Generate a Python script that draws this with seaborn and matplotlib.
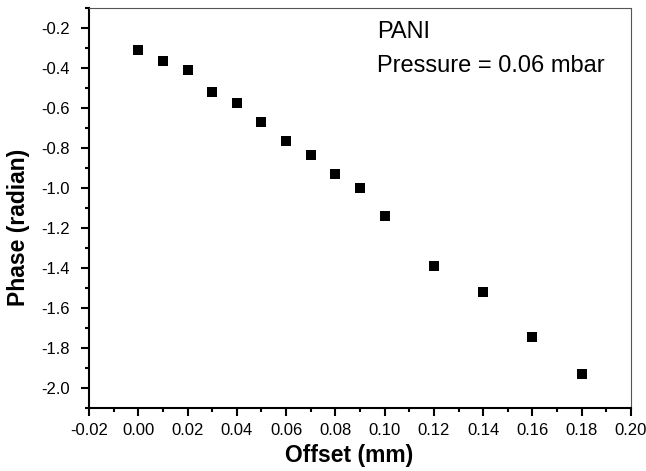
import pandas as pd
import seaborn as sns
import matplotlib.pyplot as plt
from matplotlib.ticker import MultipleLocator, FormatStrFormatter

# Данные
offset = [0.00, 0.01, 0.02, 0.03, 0.04, 0.05, 0.06, 0.07, 0.08, 0.09, 0.10, 0.12, 0.14, 0.16, 0.18]
phase = [-0.31, -0.365, -0.41, -0.52, -0.575, -0.67, -0.765, -0.835, -0.93, -1.0,
         -1.14, -1.39, -1.52, -1.745, -1.93]

df = pd.DataFrame({'offset': offset, 'phase': phase})

sns.set_style('white', {'text.color': 'black', 'axes.labelcolor': 'black',
                        'xtick.color': 'black', 'ytick.color': 'black'})
plt.rcParams['font.family'] = ['Liberation Sans', 'DejaVu Sans']

fig = plt.figure(figsize=(6.46, 4.71), dpi=100)
ax = fig.add_axes([0.1378, 0.1338, 0.839, 0.8492])

sns.scatterplot(data=df, x='offset', y='phase', marker='s', color='black',
                s=42, edgecolor='black', linewidth=0, ax=ax)

ax.set_xlim(-0.02, 0.20)
ax.set_ylim(-2.1, -0.1)
ax.xaxis.set_major_locator(MultipleLocator(0.02))
ax.xaxis.set_minor_locator(MultipleLocator(0.01))
ax.yaxis.set_major_locator(MultipleLocator(0.2))
ax.yaxis.set_minor_locator(MultipleLocator(0.1))
ax.xaxis.set_major_formatter(FormatStrFormatter('%.2f'))
ax.yaxis.set_major_formatter(FormatStrFormatter('%.1f'))

ax.tick_params(axis='both', which='major', direction='out', length=6, width=1.5,
               labelsize=12, bottom=True, left=True, pad=5, colors='black')
ax.tick_params(axis='y', which='major', pad=8)
ax.tick_params(axis='both', which='minor', direction='out', length=3, width=1.5,
               bottom=True, left=True, colors='black')

for side in ['left', 'bottom']:
    ax.spines[side].set_color('black')
    ax.spines[side].set_linewidth(1.5)
for side in ['top', 'right']:
    ax.spines[side].set_color('#555555')
    ax.spines[side].set_linewidth(0.8)

ax.set_xlabel('Offset (mm)', fontsize=16.5, fontweight='bold', color='black')
ax.set_ylabel('Phase (radian)', fontsize=16.5, fontweight='bold', color='black')
ax.xaxis.set_label_coords(0.48, -0.09)
ax.yaxis.set_label_coords(-0.109, 0.4525)

ax.text(0.097, -0.22, 'PANI', fontsize=17, ha='left', va='center', color='black')
ax.text(0.097, -0.39, 'Pressure = 0.06 mbar', fontsize=17, ha='left', va='center', color='black')

plt.savefig('out.png', dpi=100)
